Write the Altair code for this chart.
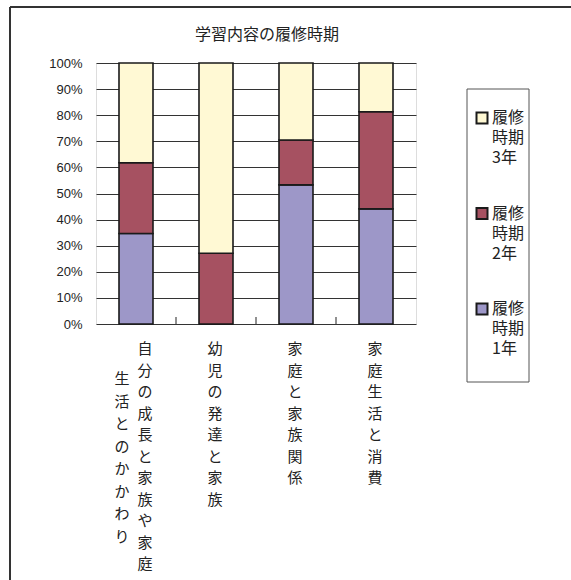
import altair as alt
import pandas as pd

# ---- data ----
categories = ["自分の成長と家族や家庭生活とのかかわり", "幼児の発達と家族", "家庭と家族関係", "家庭生活と消費"]
label_col_right = ["自分の成長と家族や家庭", "幼児の発達と家族", "家庭と家族関係", "家庭生活と消費"]
label_col_left = ["生活とのかかわり", "", "", ""]
series = ["履修時期1年", "履修時期2年", "履修時期3年"]
year1 = [34.7, 0.0, 53.3, 44.1]
year2 = [27.1, 27.1, 17.2, 37.2]
year3 = [38.2, 72.9, 29.5, 18.7]
y_ticks = [0, 10, 20, 30, 40, 50, 60, 70, 80, 90, 100]
series_colors = ["#9d97c8", "#a65161", "#fff9d4"]
title_text = "学習内容の履修時期"

rows = []
for vals, s, rank in zip([year1, year2, year3], series, [1, 2, 3]):
    for c, v in zip(categories, vals):
        rows.append({"cat": c, "series": s, "value": v, "rank": rank})
df = pd.DataFrame(rows)

lab = pd.DataFrame({
    "cat": categories,
    "right": ["\n".join(list(t)) for t in label_col_right],
    "left": ["\n".join(list(t)) for t in label_col_left],
})

JP = "Noto Sans CJK JP"
TXT = "#222222"
W, H = 320, 261

xscale = alt.Scale(domain=categories, paddingInner=0, paddingOuter=0)
cscale = alt.Scale(domain=series[::-1], range=series_colors[::-1])

bars = alt.Chart(df).mark_bar(size=34, stroke="#1a1a1a", strokeWidth=1.6).encode(
    x=alt.X("cat:N", scale=xscale, axis=None),
    y=alt.Y("value:Q", stack="zero",
            scale=alt.Scale(domain=[0, 100], nice=False),
            axis=alt.Axis(values=y_ticks, labelExpr="datum.value + '%'", title=None,
                          ticks=False, domain=False, grid=True, gridColor="#333333",
                          gridWidth=1, labelFont="Liberation Sans", labelFontSize=13,
                          labelColor=TXT, labelPadding=14)),
    color=alt.Color("series:N", scale=cscale, legend=None),
    order=alt.Order("rank:Q"),
)

ticks = alt.Chart(pd.DataFrame({"cat": categories[1:]})).mark_rule(
    color="#222222", strokeWidth=1
).encode(
    x=alt.X("cat:N", scale=xscale, bandPosition=0, axis=None),
    y=alt.value(H - 7), y2=alt.value(H),
)

def vlabel(filter_expr, field, dx, ytop, lh):
    return alt.Chart(lab).transform_filter(filter_expr).mark_text(
        baseline="top", align="center", lineBreak="\n", lineHeight=lh,
        fontSize=15, font=JP, color=TXT, dx=dx
    ).encode(
        x=alt.X("cat:N", scale=xscale, axis=None),
        y=alt.value(ytop),
        text=f"{field}:N",
    )

lab_main = vlabel(alt.datum.cat != categories[0], "right", -1, 279, 21.5)
lab_first_r = vlabel(alt.datum.cat == categories[0], "right", 9, 279, 21.5)
lab_first_l = vlabel(alt.datum.cat == categories[0], "left", -14, 309, 22.5)

one = pd.DataFrame({"k": [0]})
frame_top = alt.Chart(one).mark_rule(color="#333333", strokeWidth=2).encode(
    x=alt.value(-86), x2=alt.value(700), y=alt.value(-56))
frame_left = alt.Chart(one).mark_rule(color="#333333", strokeWidth=2).encode(
    x=alt.value(-86), y=alt.value(-56), y2=alt.value(700))

title = alt.Chart(pd.DataFrame({"t": [title_text]})).mark_text(
    font=JP, fontSize=16, color=TXT, baseline="middle", align="center"
).encode(x=alt.value(171), y=alt.value(-28), text="t:N")

# ---- manual legend (3年 on top, 1年 at bottom) ----
legend_box = alt.Chart(one).mark_rect(fill="white", stroke="#555555", strokeWidth=1).encode(
    x=alt.value(371), x2=alt.value(433), y=alt.value(26), y2=alt.value(319))

legend_layers = [legend_box]
leg_df = pd.DataFrame({
    "series": series,
    "lines": ["\n".join([s[0:2], s[2:4], s[4:]]) for s in series],
})
for i, s in enumerate(series[::-1]):
    sub = leg_df[leg_df["series"] == s]
    y0 = 55 + i * 95.5
    sq = alt.Chart(sub).mark_square(size=121, stroke="#1a1a1a", strokeWidth=2, opacity=1).encode(
        x=alt.value(386), y=alt.value(y0),
        color=alt.Color("series:N", scale=cscale, legend=None),
    )
    tx = alt.Chart(sub).mark_text(
        font=JP, fontSize=16, color=TXT, align="left", baseline="top",
        lineBreak="\n", lineHeight=20
    ).encode(x=alt.value(396), y=alt.value(y0 - 8), text="lines:N")
    legend_layers += [sq, tx]

chart = alt.layer(
    bars, ticks, lab_main, lab_first_r, lab_first_l, frame_top, frame_left, title,
    *legend_layers
).properties(
    width=W, height=H,
    autosize=alt.AutoSizeParams(type="none"),
    padding={"left": 96, "top": 63, "right": 155, "bottom": 256},
).configure_view(stroke="#1a1a1a", strokeWidth=2).configure(background="white")

chart.save("out.html", embed_options={"renderer": "svg", "actions": False})
